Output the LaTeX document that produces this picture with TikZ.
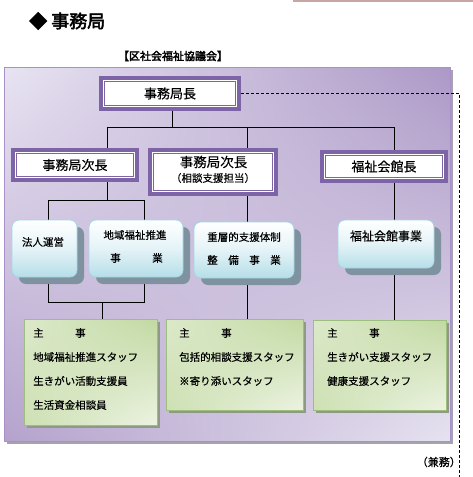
\documentclass[tikz,border=0pt]{standalone}
\usepackage{fontspec}
\setmainfont{Noto Sans CJK JP}[FakeBold=0.35]
\newfontfamily\boldcjk[FakeBold=2.6]{Noto Sans CJK JP}
\usetikzlibrary{shadings,shadows,calc}
\definecolor{frame}{HTML}{7D64A6}
\definecolor{pUL}{HTML}{E8E4F2}
\definecolor{pUR}{HTML}{AC98C6}
\definecolor{pLL}{HTML}{B4A2CC}
\definecolor{pLR}{HTML}{E6E2F0}
\definecolor{pbd}{HTML}{A890C8}
\definecolor{pshadow}{HTML}{A6A2B0}
\definecolor{bluebd}{HTML}{A6D6E4}
\definecolor{bluebot}{HTML}{B6DEE8}
\definecolor{bluemid}{HTML}{E4F3F7}
\definecolor{shadowblue}{HTML}{7E92A0}
\definecolor{greenbd}{HTML}{9EBE80}
\definecolor{gUL}{HTML}{DCE9CA}
\definecolor{gUR}{HTML}{C2D9A2}
\definecolor{gLL}{HTML}{CDE0B2}
\definecolor{gLR}{HTML}{ECF3E2}
\definecolor{gshadow}{HTML}{8E9A84}
\definecolor{pinkline}{HTML}{C9A6A6}
\pgfdeclarelayer{bg}
\pgfdeclarelayer{lines}
\pgfsetlayers{bg,lines,main}
\begin{document}
\begin{tikzpicture}[x=1pt,y=-1pt,
  frm/.style={draw=frame, line width=1pt, fill=white, inner sep=0pt,
    preaction={draw=frame, line width=11pt},
    preaction={draw=white, line width=3pt}},
  bluebox/.style={draw=bluebd, line width=0.8pt, rounded corners=7pt,
    top color=white, bottom color=bluebot, middle color=bluemid, inner sep=0pt,
    drop shadow={shadow xshift=7pt, shadow yshift=-7pt, fill=shadowblue, opacity=1, draw=none}},
  greenbox/.style={draw=greenbd, line width=0.8pt, inner sep=0pt,
    upper left=gUL, upper right=gUR, lower left=gLL, lower right=gLR,
    drop shadow={shadow xshift=2.5pt, shadow yshift=-2.5pt, fill=gshadow, opacity=1, draw=none}},
  lbl/.style={inner sep=0pt, font=\fontsize{10.5}{12}\selectfont},
  gt/.style={lbl, anchor=west},
  conn/.style={draw=black, line width=0.9pt},
  dashln/.style={draw=black, line width=0.8pt, dash pattern=on 3pt off 2pt},
]
\useasboundingbox (0,0) rectangle (473,477);

% background panel
\begin{pgfonlayer}{bg}
\fill[pshadow] (6.5,69.5) rectangle (452.5,443.5);
\shade[upper left=pUL, upper right=pUR, lower left=pLL, lower right=pLR] (4,67) rectangle (450,441);
\draw[pbd, line width=0.8pt] (4,67) rectangle (450,441);
\end{pgfonlayer}

% top pink line
\coordinate (p0) at (293,0.75);
\coordinate (p1) at (473,0.75);
\draw[pinkline, line width=1.5pt] (p0) -- (p1);

% titles
\node[inner sep=0pt, anchor=west, font=\boldcjk\fontsize{18}{20}\selectfont] (title) at (29,21) {◆ 事務局};
\node[inner sep=0pt, font=\boldcjk\fontsize{11}{13}\selectfont] (org) at (173,56) {【区社会福祉協議会】};

% framed boxes
\node[frm, minimum width=131pt, minimum height=24pt, font=\fontsize{13}{15}\selectfont] (boss) at (170,93.5) {事務局長};
\node[frm, minimum width=117pt, minimum height=23pt, font=\fontsize{13}{15}\selectfont] (dep1) at (75,165) {事務局次長};
\node[frm, minimum width=119pt, minimum height=37pt] (dep2) at (213,172) {};
\node[inner sep=0pt, font=\fontsize{13.5}{15}\selectfont] (dep2a) at (213.5,162) {事務局次長};
\node[lbl] (dep2b) at (213,178) {（相談支援担当）};
\node[frm, minimum width=117pt, minimum height=22pt, font=\fontsize{13}{15}\selectfont] (dep3) at (384,166.5) {福祉会館長};

% blue boxes
\node[bluebox, minimum width=65pt, minimum height=57pt] (b1) at (44.5,248.5) {};
\node[lbl] (b1t) at (43,242) {法人運営};
\node[bluebox, minimum width=94pt, minimum height=57pt] (b2) at (136,248.5) {};
\node[lbl] (b2t) at (135,235) {地域福祉推進};
\node[lbl] (b2u) at (136.5,258) {事　　　業};
\node[bluebox, minimum width=100pt, minimum height=56pt] (b3) at (244,250) {};
\node[lbl] (b3t) at (244,237) {重層的支援体制};
\node[lbl] (b3u) at (244,260) {整　備　事　業};
\node[bluebox, minimum width=96pt, minimum height=48pt] (b4) at (386,244) {};
\node[lbl, font=\fontsize{12}{14}\selectfont] (b4t) at (386,236) {福祉会館事業};

% green boxes
\node[greenbox, minimum width=133pt, minimum height=106pt] (g1) at (90.5,372) {};
\node[gt] (g1a) at (33,333) {主　　　事};
\node[gt] (g1b) at (33,357) {地域福祉推進スタッフ};
\node[gt] (g1c) at (33,381) {生きがい活動支援員};
\node[gt] (g1d) at (33,405) {生活資金相談員};
\node[greenbox, minimum width=137pt, minimum height=91pt] (g2) at (234.5,364.5) {};
\node[gt] (g2a) at (179,333) {主　　　事};
\node[gt] (g2b) at (179,357) {包括的相談支援スタッフ};
\node[gt] (g2c) at (179,381) {※寄り添いスタッフ};
\node[greenbox, minimum width=133pt, minimum height=90pt] (g3) at (379.5,365) {};
\node[gt] (g3a) at (327,333) {主　　　事};
\node[gt] (g3b) at (327,357) {生きがい支援スタッフ};
\node[gt] (g3c) at (327,381) {健康支援スタッフ};

% note
\node[inner sep=0pt, anchor=east, font=\fontsize{11}{13}\selectfont] (kenmu) at (461,462) {（兼務）};

% connectors
\begin{pgfonlayer}{lines}
\coordinate (j0) at (172.5,127);
\coordinate (jl) at (107,127);
\coordinate (jm) at (247,127);
\coordinate (jr) at (394,127);
\draw[conn] (boss.south -| j0) -- (j0);
\draw[conn] (jl) -- (jr);
\draw[conn] (jl) -- (jl |- dep1.north);
\draw[conn] (jm) -- (jm |- dep2.north);
\draw[conn] (jr) -- (jr |- dep3.north);
\coordinate (k0) at (107,200);
\coordinate (kl) at (48,200);
\coordinate (kr) at (144,200);
\draw[conn] (dep1.south -| k0) -- (k0);
\draw[conn] (kl) -- (kr);
\draw[conn] (kl) -- (kl |- b1.north);
\draw[conn] (kr) -- (kr |- b2.north);
\coordinate (m0) at (102,302);
\coordinate (ml) at (48,302);
\coordinate (mr) at (144,302);
\draw[conn] (ml |- b1.south) -- (ml) -- (mr) -- (mr |- b2.south);
\draw[conn] (m0) -- (m0 |- g1.north);
\draw[conn] (dep2.south -| jm) -- (jm |- b3.north);
\draw[conn] (b3.south -| jm) -- (jm |- g2.north);
\draw[conn] (dep3.south -| jr) -- (jr |- b4.north);
\draw[conn] (b4.south -| jr) -- (jr |- g3.north);
\coordinate (dc) at (459.5,93);
\coordinate (de) at (459.5,477);
\draw[dashln] (boss.east) -- (boss.east -| dc) -- (de);
\end{pgfonlayer}
\end{tikzpicture}
\end{document}
